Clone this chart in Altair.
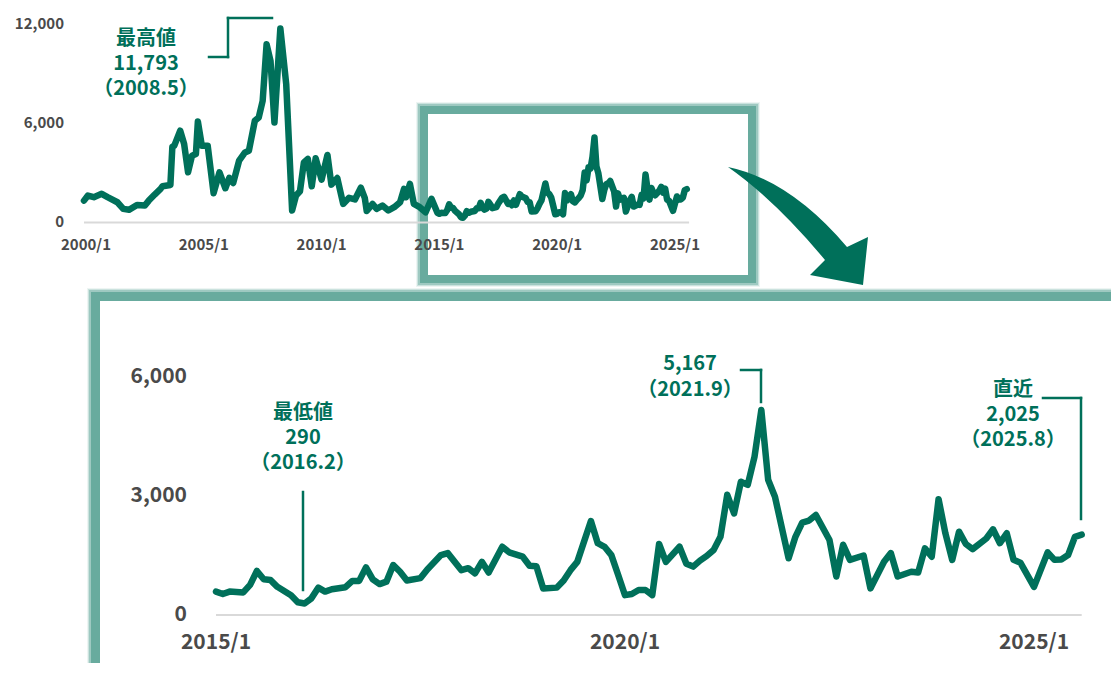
import altair as alt
import pandas as pd

# ---- data ----
# long-run series: months since 2000/1 (2000-2014 part)
early_month = [0, 2, 5, 9, 12, 17, 20, 23, 27, 31, 33, 36, 39, 40, 44, 45, 46, 49, 51, 53,
               55, 57, 58, 60, 63, 66, 69, 72, 74, 76, 79, 82, 84, 87, 89, 91, 93, 95, 97, 100,
               103, 106, 108, 110, 112, 114, 116, 118, 121, 124, 126, 129, 132, 135, 138, 141,
               143, 144, 147, 149, 152, 155, 158, 161, 163, 164, 166, 168, 171, 174, 177]
early_value = [1330, 1640, 1540, 1740, 1540, 1230, 830, 770, 1070, 1030, 1330, 1700, 2040, 2200,
               2280, 4600, 4670, 5580, 4770, 3050, 4060, 4160, 6140, 4670, 4670, 1780, 3050, 2080,
               2710, 2400, 3760, 4260, 4360, 6180, 6380, 7390, 10830, 9820, 6080, 11793,
               8400, 730, 1640, 1900, 3650, 3860, 2200, 3900, 2600, 4100, 2300, 2700, 1130, 1500,
               1400, 2120, 1500, 700, 1130, 830, 1030, 730, 930, 1230, 2040, 1530, 2350, 1130,
               930, 620, 1440]

# recent series: months since 2015/1
recent_month = [0, 1, 2, 4, 5, 6, 7, 8, 9, 11, 12, 13, 14, 15, 16, 17, 19, 20, 21, 22, 23, 24,
                25, 26, 27, 28, 30, 31, 33, 34, 36, 37, 38, 39, 40, 42, 43, 45, 46, 47, 48, 50,
                51, 52, 53, 55, 56, 57, 58, 59, 60, 61, 62, 63, 64, 65, 66, 68, 69, 70, 71, 72,
                73, 74, 75, 76, 77, 78, 79, 80, 81, 82, 84, 85, 86, 87, 88, 90, 91, 92, 93, 95,
                96, 98, 99, 100, 102, 103, 104, 105, 106, 107, 108, 109, 110, 111, 113, 114, 115,
                116, 117, 118, 120, 122, 123, 124, 125, 126, 127]
recent_value = [590, 530, 590, 570, 760, 1110, 900, 880, 710, 500, 320, 290, 420, 690, 590, 650,
                700, 860, 860, 1200, 900, 780, 840, 1260, 1090, 870, 930, 1150, 1510, 1560, 1130,
                1180, 1050, 1340, 1070, 1720, 1580, 1470, 1240, 1230, 670, 690, 870, 1130, 1340,
                2370, 1810, 1720, 1510, 1010, 500, 530, 630, 630, 500, 1790, 1340, 1720, 1290,
                1220, 1370, 1490, 1640, 1970, 3030, 2560, 3360, 3280, 3990, 5167, 3410, 2980,
                1430, 1970, 2330, 2380, 2520, 1890, 970, 1770, 1390, 1500, 670, 1340, 1560, 970,
                1090, 1070, 1680, 1470, 2920, 2060, 1390, 2100, 1790, 1660, 1930, 2160, 1810,
                2060, 1390, 1320, 710, 1580, 1390, 1400, 1510, 1970, 2025]

top_y_ticks = [0, 6000, 12000]
top_x_ticks = [2000, 2005, 2010, 2015, 2020, 2025]
bot_y_ticks = [0, 3000, 6000]
bot_x_ticks = [2015, 2020, 2025]

note_high = ["最高値", "11,793", "（2008.5）"]
note_low = ["最低値", "290", "（2016.2）"]
note_peak = ["5,167", "（2021.9）"]
note_last = ["直近", "2,025", "（2025.8）"]

# ---- tables ----
top_df = pd.DataFrame({
    "t": [2000 + m / 12 for m in early_month] + [2015 + m / 12 for m in recent_month],
    "v": early_value + recent_value,
})
bot_df = pd.DataFrame({"t": [2015 + m / 12 for m in recent_month], "v": recent_value})
top_base = pd.DataFrame({"t0": [top_df.t.min()], "t1": [top_df.t.max() + 0.1], "v": [0]})
bot_base = pd.DataFrame({"t0": [bot_df.t.min()], "t1": [bot_df.t.max()], "v": [0]})
top_yt = pd.DataFrame({"v": top_y_ticks, "lab": [f"{v:,}" for v in top_y_ticks]})
top_xt = pd.DataFrame({"t": top_x_ticks, "lab": [f"{v}/1" for v in top_x_ticks]})
bot_yt = pd.DataFrame({"v": bot_y_ticks, "lab": [f"{v:,}" for v in bot_y_ticks]})
bot_xt = pd.DataFrame({"t": bot_x_ticks, "lab": [f"{v}/1" for v in bot_x_ticks]})

# ---- styling ----
W, H = 1103, 655
TEAL = "#00705a"
FRAME = "#68ab9e"
GRAY = "#4a4a4a"
BASE = "#d9d9d9"
FONT = "Noto Sans CJK JP"

topx = alt.Scale(domain=[2000, 2025], range=[76, 665], nice=False, zero=False)
topy = alt.Scale(domain=[0, 12000], range=[214.5, 17], nice=False, zero=False)
botx = alt.Scale(domain=[2015, 2025], range=[208, 1026], nice=False, zero=False)
boty = alt.Scale(domain=[0, 6000], range=[607, 369], nice=False, zero=False)

one = alt.Data(values=[{"k": 1}])


def frame(x1, y1, x2, y2, steps):
    """soft border drawn just outside the box (x1,y1)-(x2,y2)"""
    out = []
    for ext, op in steps:
        h = ext / 2
        out.append(alt.Chart(one).mark_rect(fill=FRAME, fillOpacity=0, stroke=FRAME,
                                            strokeWidth=ext, strokeOpacity=op).encode(
            x=alt.value(x1 - h), x2=alt.value(x2 + h),
            y=alt.value(y1 - h), y2=alt.value(y2 + h)))
    return out


def seg(x1, y1, x2, y2):
    return alt.Chart(one).mark_rule(color=TEAL, strokeWidth=2.5, strokeCap="square").encode(
        x=alt.value(x1), x2=alt.value(x2), y=alt.value(y1), y2=alt.value(y2))


def note(lines, x, ys):
    out = []
    for line, y in zip(lines, ys):
        out.append(alt.Chart(one).mark_text(text=line, align="center", baseline="middle",
                                            font=FONT, fontSize=20, fontWeight="bold",
                                            color=TEAL).encode(
            x=alt.value(x), y=alt.value(y)))
    return out


def series(df, xs, ys, w):
    return alt.Chart(df).mark_line(color=TEAL, strokeWidth=w, strokeJoin="round",
                                   strokeCap="round").encode(
        x=alt.X("t:Q", scale=xs, axis=None), y=alt.Y("v:Q", scale=ys, axis=None))


def baseline(df, xs, ys):
    return alt.Chart(df).mark_rule(color=BASE, strokeWidth=2).encode(
        x=alt.X("t0:Q", scale=xs, axis=None), x2="t1:Q",
        y=alt.Y("v:Q", scale=ys, axis=None))


def ylabels(df, ys, x, size, dy):
    return alt.Chart(df).mark_text(align="right", baseline="middle", font=FONT, fontSize=size,
                                   fontWeight="bold", color=GRAY, dy=dy).encode(
        x=alt.value(x), y=alt.Y("v:Q", scale=ys, axis=None), text="lab:N")


def xlabels(df, xs, y, size, dx):
    return alt.Chart(df).mark_text(align="center", baseline="middle", font=FONT, fontSize=size,
                                   fontWeight="bold", color=GRAY, dx=dx).encode(
        x=alt.X("t:Q", scale=xs, axis=None), y=alt.value(y), text="lab:N")


arrow_path = ("M -72 -63 Q -10 -50 47 17 L 68 7 L 63 55 L 10 45 L 25 30 "
              "Q -25 -30 -72 -63 Z")
arrow = alt.Chart(one).mark_point(shape=arrow_path, size=4, filled=True, fill=TEAL,
                                  opacity=1, strokeWidth=0).encode(
    x=alt.value(792), y=alt.value(222))

soft_top = [(12, 0.12), (11, 0.25), (10, 0.45), (8, 1.0)]
soft_bot = [(13, 0.12), (12, 0.25), (11, 0.45), (9, 1.0)]

layers = []
# top chart
layers += frame(420, 106, 740, 267, soft_top)
layers += [
    baseline(top_base, topx, topy),
    series(top_df, topx, topy, 6.5),
    ylabels(top_yt, topy, 56, 15, -1),
    xlabels(top_xt, topx, 237, 15, 2),
]
layers += note(note_high, 138, [31, 56, 81])
layers += [seg(201, 49, 220, 49), seg(220, 49, 220, 10), seg(220, 10, 264, 10)]
# bottom panel
layers += frame(92, 293, 1400, 900, soft_bot)
layers += [
    baseline(bot_base, botx, boty),
    series(bot_df, botx, boty, 6.5),
    ylabels(bot_yt, boty, 179, 21, 0),
    xlabels(bot_xt, botx, 635, 21, 0),
]
layers += note(note_low, 295, [405, 430, 455])
layers += [seg(295, 484, 295, 582)]
layers += note(note_peak, 682, [356, 382])
layers += [seg(733, 362, 753, 362), seg(753, 362, 753, 394)]
layers += note(note_last, 1005, [382, 407, 432])
layers += [seg(1035, 390, 1073, 390), seg(1073, 390, 1073, 511), arrow]

chart = alt.layer(*layers).resolve_scale(x="independent", y="independent").properties(
    width=W, height=H, padding=0, autosize="none"
).configure_view(stroke=None)

chart.save("out.html", embed_options={"renderer": "svg", "actions": False})
